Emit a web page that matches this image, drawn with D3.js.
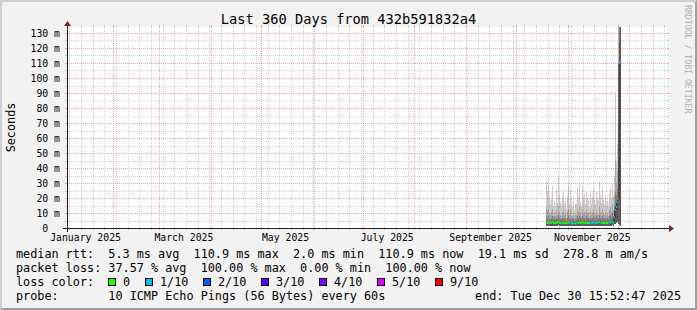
<!DOCTYPE html>
<html>
<head>
<meta charset="utf-8">
<script src="https://cdn.jsdelivr.net/npm/d3@7"></script>
<style>
  html, body { margin: 0; padding: 0; background: #f2f2f2; }
  svg { display: block; }
  text { font-family: "DejaVu Sans Mono", monospace; }
</style>
</head>
<body>
<svg id="chart" width="697" height="310"></svg>
<script>
// time window: last 360 days ending at the probe's "end" stamp
const startTime = new Date(2025, 0, 4, 15, 52, 47);
const endTime = new Date(2025, 11, 30, 15, 52, 47);

// one consolidated sample per pixel column (14.4 h), first one on Oct 19
const firstSample = new Date(2025, 9, 19, 1, 28, 0);
const stepMs = 14.4 * 3600 * 1000;

// smoke boundaries in ms (sorted pings collapsed to bands)
const smokeBase = [1.5,1.4,1.6,1.3,1.4,1.5,1.6,1.3,1.4,1.3,1.5,1.4,1.7,1.4,1.3,1.3,1.4,1.5,1.3,1.4,1.2,1.4,1.6,1.3,1.5,1.3,1.3,1.4,1.2,1.3,1.3,1.5,1.4,1.6,1.4,1.3,1.5,1.4,1.4,1.3,1.5,1.4,1.4,1.3,1.4,1.3,1.4,1.5,1.4,1.3,1.5,1.4,1.3,1.6,1.4,1.3,1.5,1.4,1.3,1.4,1.3,1.4,1.3,1.5,1.6,1.4,1.7,1.5,2.5,3,3.5,4,3,2,1.5];
const ping5 = [5,4.5,5,4,4,4.5,5,4,4.5,4,4.5,4,5.5,4.5,4,4,4.5,4.5,4,4.5,3.8,4.5,5,4,4.5,4,4,4.5,3.8,4,4,5,4.5,5,4.5,4,5,4.5,4.5,4,5,4.5,4.5,4,4.5,4,4.5,5,4.5,4,5,4.5,4,5.5,4.5,4,5,4.5,4,4.5,4,4.5,4,5,5.5,4.5,6,5,10,15,16,19,45,125,134];
const ping6 = [8,7,8,6,6,7,8,6,7,6,7,6,9,7,6,6,7,7,6,7,5,7,8,6,7,6,6,7,5,6,6,8,7,8,7,6,8,7,7,6,8,7,7,6,7,6,7,8,7,6,8,7,6,9,7,6,8,7,6,7,6,7,6,8,9,7,10,8,15,24,22,26,70,134,134];
const ping7 = [14,12,13,10,9,11,13,8,10,8,12,9,15,11,9,8,10,12,9,10,7,11,13,9,12,8,8,10,7,9,9,13,11,14,10,8,13,10,11,9,12,10,10,8,11,9,11,13,10,9,12,10,9,15,11,9,13,10,9,11,8,10,8,12,14,11,16,12,22,45,30,38,110,134,134];
const ping8 = [31,25,29,21,16,19,28,15,18,14,26,17,34,22,17,15,20,24,16,18,13,21,28,16,26,15,14,18,12,16,16,27,21,29,17,15,28,19,22,16,24,20,18,15,23,17,21,27,19,16,24,20,18,31,22,17,26,19,16,21,15,18,15,23,26,20,29,21,35,90,44,56,134,134,134];
const ping9 = [36,31,34,26,20,24,32,19,22,17,30,21,38,27,21,18,24,28,19,22,16,25,32,20,30,18,17,22,15,20,19,31,25,33,21,18,32,23,26,20,28,24,22,18,27,21,25,31,23,19,28,24,22,35,26,21,30,23,20,25,19,22,18,27,30,24,33,25,40,95,48,62,134,134,134];
const median = [3.6,3.3,3.8,3.2,3.4,3.5,3.9,3.1,3.4,3.2,3.7,3.3,4.1,3.5,3.2,3.1,3.4,3.6,3.2,3.4,3.0,3.5,3.8,3.2,3.6,3.1,3.1,3.4,3.0,3.2,3.2,3.7,3.4,3.9,3.4,3.1,3.8,3.4,3.5,3.2,3.7,3.4,3.4,3.1,3.5,3.2,3.5,3.8,3.4,3.2,3.7,3.4,3.2,4.0,3.5,3.2,3.7,3.4,3.2,3.5,3.1,3.4,3.1,3.6,3.9,3.5,4.2,3.7,7,12,14,17,19,110,110.9];
const lossIdx = [0,0,0,0,1,0,0,0,0,0,0,0,0,0,0,1,0,0,0,0,0,0,0,0,1,1,0,1,1,0,1,0,0,0,0,0,0,0,0,0,0,0,0,0,1,1,0,1,1,1,0,1,1,0,1,0,0,0,0,0,0,0,1,1,0,1,1,0,1,1,1,1,1,1,1];

// axis ticks and legend
const yMajor = [10, 20, 30, 40, 50, 60, 70, 80, 90, 100, 110, 120, 130];
const yMinor = [5, 15, 25, 35, 45, 55, 65, 75, 85, 95, 105, 115, 125];
const yLabels = [0, 10, 20, 30, 40, 50, 60, 70, 80, 90, 100, 110, 120, 130];
const monthLabels = [0, 2, 4, 6, 8, 10];
const lossNames = ["0", "1/10", "2/10", "3/10", "4/10", "5/10", "9/10"];
const lossColors = ["#26ff00", "#00b8ff", "#0059ff", "#5e00ff", "#7e00ff", "#dd00ff", "#ff0000"];
const legendRtt = "median rtt:  5.3 ms avg  110.9 ms max  2.0 ms min  110.9 ms now  19.1 ms sd  278.8 m am/s";
const legendLoss = "packet loss: 37.57 % avg  100.00 % max  0.00 % min  100.00 % now";
const legendProbe = "probe:       10 ICMP Echo Pings (56 Bytes) every 60s";
const legendEnd = "end: Tue Dec 30 15:52:47 2025";

const W = 697, H = 310;
const X0 = 67, X1 = 667, Y0 = 228, Y1 = 27;

const x = d3.scaleTime().domain([startTime, endTime]).range([X0, X1]);
const y = d3.scaleLinear().domain([0, 134]).range([Y0, Y1]);

const samples = median.map((m, i) => {
  const t = new Date(+firstSample + i * stepMs);
  return {
    t, t1: new Date(+t + stepMs),
    base: smokeBase[i], p5: ping5[i], p6: ping6[i], p7: ping7[i], p8: ping8[i], p9: ping9[i],
    med: m, loss: lossIdx[i]
  };
});

const svg = d3.select("#chart");

// frame
svg.append("rect").attr("width", W).attr("height", H).attr("fill", "#f2f2f2");
svg.append("polygon").attr("points", `0,${H} 2,${H - 2} 2,2 ${W - 2},2 ${W},0 0,0`).attr("fill", "#cfcfcf");
svg.append("polygon").attr("points", `2,${H - 2} ${W - 2},${H - 2} ${W - 2},2 ${W},0 ${W},${H} 0,${H}`).attr("fill", "#9e9e9e");
svg.append("rect").attr("x", X0).attr("y", Y1).attr("width", X1 - X0).attr("height", Y0 - Y1).attr("fill", "#ffffff");

// smoke, lightest band first
const bands = [
  { key: "p9", color: "#f0f0f0" },
  { key: "p8", color: "#cacaca" },
  { key: "p7", color: "#a4a4a4" },
  { key: "p6", color: "#7e7e7e" },
  { key: "p5", color: "#585858" }
];
const gSmoke = svg.append("g").attr("shape-rendering", "crispEdges");
bands.forEach((b) => {
  gSmoke.append("g").selectAll("rect")
    .data(samples)
    .join("rect")
    .attr("x", (d) => x(d.t))
    .attr("width", (d) => x(d.t1) - x(d.t))
    .attr("y", (d) => y(Math.min(d[b.key], 134)))
    .attr("height", (d) => y(d.base) - y(Math.min(d[b.key], 134)))
    .attr("fill", b.color);
});

// median: dark joining line, then loss coloured pieces
const lineMed = d3.line()
  .x((d) => x(d.t))
  .y((d) => y(d.med))
  .curve(d3.curveStepAfter);
svg.append("path")
  .datum(samples.concat([{ t: samples[samples.length - 1].t1, med: samples[samples.length - 1].med }]))
  .attr("fill", "none")
  .attr("stroke", "#202020")
  .attr("stroke-width", 1)
  .attr("d", lineMed);

svg.append("g").selectAll("line")
  .data(samples)
  .join("line")
  .attr("x1", (d) => x(d.t))
  .attr("x2", (d) => x(d.t1))
  .attr("y1", (d) => y(d.med))
  .attr("y2", (d) => y(d.med))
  .attr("stroke", (d) => lossColors[d.loss])
  .attr("stroke-width", 2);

// grid (drawn over data like rrdtool does)
const gGrid = svg.append("g").attr("shape-rendering", "crispEdges");
const minorCol = "rgba(143,143,143,0.4)";
const majorCol = "rgba(222,79,79,0.5)";

function hGrid(vals, col) {
  vals.forEach((v) => {
    const yy = Math.round(y(v)) + 0.5;
    gGrid.append("line").attr("x1", X0).attr("x2", X1).attr("y1", yy).attr("y2", yy)
      .attr("stroke", col).attr("stroke-dasharray", "1,1");
    gGrid.append("line").attr("x1", X0 - 2).attr("x2", X0).attr("y1", yy).attr("y2", yy).attr("stroke", col);
    gGrid.append("line").attr("x1", X1).attr("x2", X1 + 2).attr("y1", yy).attr("y2", yy).attr("stroke", col);
  });
}
function vGrid(dates, col) {
  dates.forEach((dt) => {
    const xx = Math.round(x(dt)) + 0.5;
    gGrid.append("line").attr("x1", xx).attr("x2", xx).attr("y1", Y1).attr("y2", Y0)
      .attr("stroke", col).attr("stroke-dasharray", "1,1");
    gGrid.append("line").attr("x1", xx).attr("x2", xx).attr("y1", Y1 - 2).attr("y2", Y1).attr("stroke", col);
    gGrid.append("line").attr("x1", xx).attr("x2", xx).attr("y1", Y0).attr("y2", Y0 + 2).attr("stroke", col);
  });
}
const months = d3.timeMonth.range(startTime, endTime);
const weeks = d3.timeMonday.range(startTime, endTime)
  .filter((w) => !months.some((m) => Math.abs(x(m) - x(w)) < 1));
hGrid(yMinor, minorCol);
vGrid(weeks, minorCol);
hGrid(yMajor, majorCol);
vGrid(months, majorCol);

// axes
svg.append("line").attr("x1", X0 - 4).attr("x2", X1 + 4).attr("y1", Y0 + 0.5).attr("y2", Y0 + 0.5)
  .attr("stroke", "#1f1f1f").attr("shape-rendering", "crispEdges");
svg.append("line").attr("x1", X0 + 0.5).attr("x2", X0 + 0.5).attr("y1", Y0 + 4).attr("y2", Y1 - 4)
  .attr("stroke", "#1f1f1f").attr("shape-rendering", "crispEdges");
svg.append("polygon").attr("points", `${X1 + 2},${Y0 - 3} ${X1 + 2},${Y0 + 4} ${X1 + 7},${Y0 + 0.5}`).attr("fill", "#801f1f");
svg.append("polygon").attr("points", `${X0 - 3},${Y1 - 1} ${X0 + 4},${Y1 - 1} ${X0 + 0.5},${Y1 - 6}`).attr("fill", "#801f1f");

const yAxis = svg.append("g")
  .attr("transform", `translate(${X0},0)`)
  .call(d3.axisLeft(y).tickValues(yLabels).tickSize(0).tickPadding(7)
    .tickFormat((d) => (d === 0 ? "0" : `${d} m`)));
yAxis.select(".domain").remove();
yAxis.selectAll("text")
  .attr("font-family", '"DejaVu Sans Mono", monospace')
  .attr("font-size", "9.8px")
  .attr("fill", "#000")
  .attr("dx", (d) => (d === 0 ? -11.8 : 0));

const labelDates = monthLabels.map((m) => new Date(2025, m, 15, 12));
const xAxis = svg.append("g")
  .attr("transform", `translate(0,${Y0})`)
  .call(d3.axisBottom(x).tickValues(labelDates).tickSize(0).tickPadding(6.4)
    .tickFormat(d3.timeFormat("%B %Y")));
xAxis.select(".domain").remove();
xAxis.selectAll("text")
  .attr("font-family", '"DejaVu Sans Mono", monospace')
  .attr("font-size", "9.8px")
  .attr("fill", "#000");

// titles
svg.append("text").attr("x", W / 2).attr("y", 24).attr("text-anchor", "middle")
  .attr("font-size", "13.7px").attr("fill", "#000").text("Last 360 Days from 432b591832a4");
svg.append("text").attr("transform", "translate(15,127.5) rotate(-90)").attr("text-anchor", "middle")
  .attr("font-size", "11.8px").attr("fill", "#000").text("Seconds");
svg.append("text").attr("transform", "translate(685,5) rotate(90)")
  .attr("font-size", "8.2px").attr("fill", "#b0b0b0").text("RRDTOOL / TOBI OETIKER");

// legend
const legendFont = "11.8px";
const addRow = (txt, yy) => svg.append("text").attr("x", 16).attr("y", yy)
  .attr("font-size", legendFont).attr("fill", "#000")
  .style("white-space", "pre").text(txt);
addRow(legendRtt, 258);
addRow(legendLoss, 272);
addRow("loss color:", 286);
addRow(legendProbe, 300);
svg.append("text").attr("x", 681).attr("y", 300).attr("text-anchor", "end")
  .attr("font-size", legendFont).attr("fill", "#000").text(legendEnd);

let cx = 108;
lossNames.forEach((name, i) => {
  svg.append("rect").attr("x", cx + 0.5).attr("y", 278.5).attr("width", 7).attr("height", 7)
    .attr("fill", lossColors[i]).attr("stroke", "#000").attr("stroke-width", 1)
    .attr("shape-rendering", "crispEdges");
  svg.append("text").attr("x", cx + 15).attr("y", 286)
    .attr("font-size", legendFont).attr("fill", "#000").text(name);
  cx = cx + 15 + name.length * 7 + 15;
});
</script>
</body>
</html>
